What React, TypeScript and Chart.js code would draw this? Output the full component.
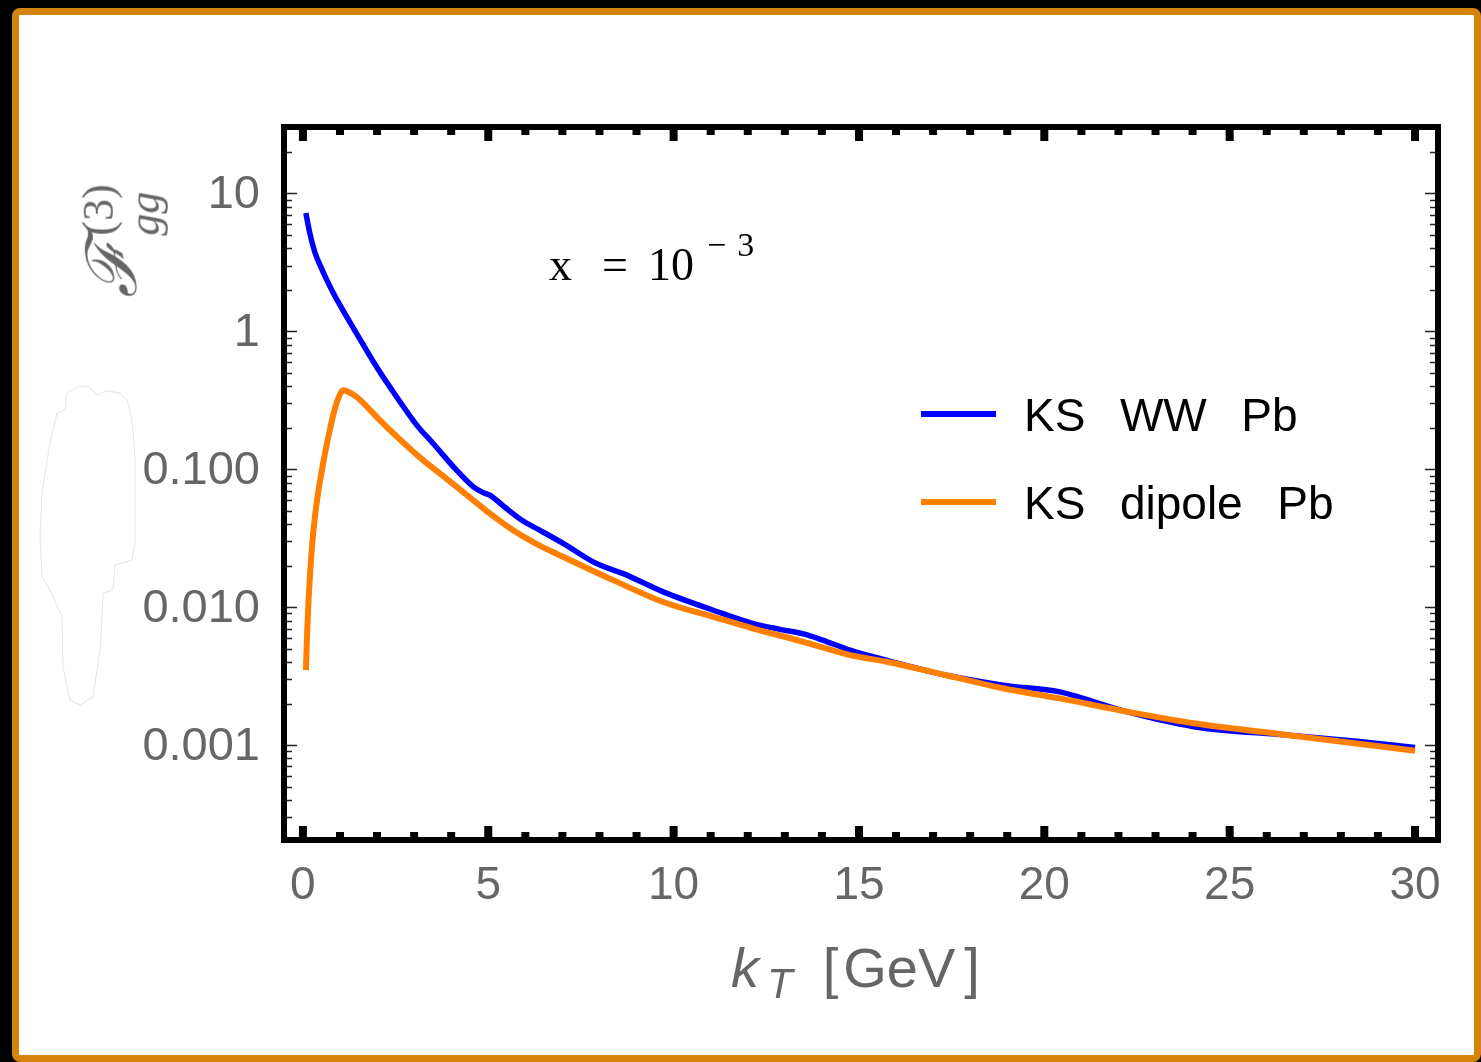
import React, { useEffect, useRef } from "react";
import { Chart, registerables } from "chart.js";

Chart.register(...registerables);

// ---- data ----
const kBlue = [0.08, 0.19, 0.32, 0.46, 0.64, 0.82, 1.0, 1.45, 1.99, 2.53, 3.07, 3.52, 4.15, 4.6, 4.85, 5.04, 5.49, 5.94, 6.35, 7.02, 7.92, 8.64, 9.72, 11.07, 12.15, 12.87, 13.5, 14.0, 14.76, 15.78, 17.33, 18.88, 20.42, 21.0, 22.17, 24.03, 26.6, 28.5, 30.0];
const blueValues = [7.2, 5.1, 3.76, 3.03, 2.37, 1.895, 1.546, 0.962, 0.551, 0.334, 0.209, 0.153, 0.098, 0.0745, 0.068, 0.0648, 0.0519, 0.0421, 0.0366, 0.029, 0.0207, 0.0175, 0.0129, 0.0095, 0.0076, 0.0069, 0.0064, 0.0058, 0.00488, 0.0041, 0.00322, 0.00272, 0.00243, 0.0022, 0.00176, 0.00136, 0.00118, 0.00106, 0.00096];

const kOrange = [0.081, 0.117, 0.153, 0.189, 0.252, 0.324, 0.414, 0.504, 0.62, 0.728, 0.863, 0.998, 1.088, 1.178, 1.45, 2.0, 2.35, 2.8, 3.25, 3.7, 4.15, 4.6, 5.04, 5.67, 6.35, 7.02, 8.37, 9.72, 11.07, 12.15, 13.4, 14.76, 15.78, 17.33, 18.88, 20.42, 22.17, 24.03, 26.6, 30.0];
const orangeValues = [0.00349, 0.00681, 0.01125, 0.0166, 0.0289, 0.0451, 0.0686, 0.0957, 0.141, 0.194, 0.275, 0.348, 0.374, 0.369, 0.334, 0.238, 0.192, 0.148, 0.116, 0.093, 0.0745, 0.0595, 0.0478, 0.0361, 0.0283, 0.0232, 0.0157, 0.0109, 0.0085, 0.007, 0.0057, 0.00449, 0.004, 0.00322, 0.00258, 0.00218, 0.00176, 0.00144, 0.00118, 0.00091];

const seriesLabels = ["KS  WW  Pb", "KS  dipole  Pb"];
const xTickValues = [0, 5, 10, 15, 20, 25, 30];
const xTickLabels = ["0", "5", "10", "15", "20", "25", "30"];
const xMinorTickValues = [0, 1, 2, 3, 4, 5, 6, 7, 8, 9, 10, 11, 12, 13, 14, 15, 16, 17, 18, 19, 20, 21, 22, 23, 24, 25, 26, 27, 28, 29, 30];
const yTickValues = [0.001, 0.01, 0.1, 1, 10];
const yTickLabels = ["0.001", "0.010", "0.100", "1", "10"];
const yDecades = [0.0001, 0.001, 0.01, 0.1, 1, 10];
const yMantissas = [1, 2, 3, 4, 5, 6, 7, 8, 9];

const BLUE = "#0000ff";
const ORANGE = "#ff8000";
const GREY = "#666666";

const framePlugin = {
  id: "mmaFrame",
  afterDatasetsDraw(chart: any) {
    const { ctx, chartArea, scales } = chart;
    const { left, right, top, bottom } = chartArea;
    const xs = scales.x;
    const ys = scales.y;
    ctx.save();
    // thick x ticks, inward, top and bottom
    ctx.fillStyle = "#000";
    for (const k of xMinorTickValues) {
      const px = xs.getPixelForValue(k);
      const len = k % 5 === 0 ? 14 : 8;
      ctx.fillRect(px - 4, bottom - len, 8, len);
      ctx.fillRect(px - 4, top, 8, len);
    }
    // thin log ticks, inward, left and right
    ctx.strokeStyle = "#222";
    ctx.lineWidth = 1.3;
    const [ymin, ymax] = [ys.min, ys.max];
    for (const d of yDecades) {
      for (const m of yMantissas) {
        const v = m * d;
        if (v < ymin || v > ymax) continue;
        const py = Math.round(ys.getPixelForValue(v)) + 0.5;
        const len = m === 1 ? 13 : 8;
        ctx.beginPath();
        ctx.moveTo(left, py);
        ctx.lineTo(left + len, py);
        ctx.moveTo(right, py);
        ctx.lineTo(right - len, py);
        ctx.stroke();
      }
    }
    // frame
    ctx.strokeStyle = "#000";
    ctx.lineWidth = 6;
    ctx.strokeRect(left, top, right - left, bottom - top);
    ctx.restore();
  },
};

const blobPoints = "77,387 88,386 97,395 107,391 120,393 127,400 131,415 133,430 135,460 135,543 132,560 115,565 113,590 103,593 102,617 100,650 93,697 80,705 70,700 63,667 62,617 50,590 42,577 40,537 42,493 50,443 57,413 65,410 67,393";

export default function App() {
  const ref = useRef<HTMLCanvasElement>(null);

  useEffect(() => {
    document.body.style.margin = "0";
    if (!ref.current) return;
    const chart = new Chart(ref.current, {
      type: "line",
      data: {
        datasets: [
          {
            label: seriesLabels[0],
            data: kBlue.map((k, i) => ({ x: k, y: blueValues[i] })),
            borderColor: BLUE,
            borderWidth: 5.5,
            pointRadius: 0,
            fill: false,
            cubicInterpolationMode: "monotone",
            order: 1,
          },
          {
            label: seriesLabels[1],
            data: kOrange.map((k, i) => ({ x: k, y: orangeValues[i] })),
            borderColor: ORANGE,
            borderWidth: 6,
            pointRadius: 0,
            fill: false,
            cubicInterpolationMode: "monotone",
            order: 0,
          },
        ],
      },
      options: {
        animation: false,
        responsive: false,
        events: [],
        layout: { padding: { left: 0, right: 43, top: 127, bottom: 0 } },
        plugins: { legend: { display: false }, tooltip: { enabled: false } },
        scales: {
          x: {
            type: "linear",
            min: -0.51,
            max: 30.62,
            grid: { display: false, drawTicks: false },
            border: { display: false },
            afterBuildTicks: (axis: any) => {
              axis.ticks = xTickValues.map((v) => ({ value: v }));
            },
            afterFit: (axis: any) => {
              axis.height = 222;
            },
            ticks: {
              autoSkip: false,
              maxRotation: 0,
              padding: 19,
              color: GREY,
              font: { family: "'Liberation Sans', Arial, sans-serif", size: 46 },
              callback: (_v: any, i: number) => xTickLabels[i],
            },
          },
          y: {
            type: "logarithmic",
            min: 0.000205,
            max: 30.3,
            grid: { display: false, drawTicks: false },
            border: { display: false },
            afterBuildTicks: (axis: any) => {
              axis.ticks = yTickValues.map((v) => ({ value: v, major: true }));
            },
            afterFit: (axis: any) => {
              axis.width = 284;
            },
            ticks: {
              autoSkip: false,
              padding: 24,
              labelOffset: 2,
              color: GREY,
              font: { family: "'Liberation Sans', Arial, sans-serif", size: 47 },
              callback: (_v: any, i: number) => yTickLabels[i],
            },
          },
        },
      },
      plugins: [framePlugin],
    } as any);
    return () => chart.destroy();
  }, []);

  const sans = "'Liberation Sans', Arial, sans-serif";
  const serif = "'Liberation Serif', 'Times New Roman', serif";

  return (
    <div style={{ position: "fixed", left: 0, top: 0, width: 1481, height: 1062, background: "#000", overflow: "hidden" }}>
      <div
        style={{
          position: "absolute",
          left: 12,
          top: 8,
          width: 1469,
          height: 1054,
          boxSizing: "border-box",
          border: "7px solid #d5840b",
          borderRadius: 8,
          background: "#fff",
        }}
      />
      <svg width={1481} height={1062} style={{ position: "absolute", left: 0, top: 0 }}>
        <polygon points={blobPoints} fill="#fff" stroke="#e4e4e4" strokeWidth={1} strokeLinejoin="round" />
      </svg>
      <canvas ref={ref} width={1481} height={1062} style={{ position: "absolute", left: 0, top: 0, display: "block" }} />

      {/* annotation x = 10^-3 */}
      <div style={{ position: "absolute", left: 549, top: 242, fontFamily: serif, fontSize: 46, lineHeight: 1, color: "#000", whiteSpace: "pre" }}>
        <span>x</span>
        <span style={{ marginLeft: 30 }}>=</span>
        <span style={{ marginLeft: 20 }}>10</span>
        <span style={{ fontSize: 34, position: "relative", top: -24, marginLeft: 13 }}>
          −<span style={{ marginLeft: 11 }}>3</span>
        </span>
      </div>

      {/* legend */}
      <div style={{ position: "absolute", left: 921, top: 411, width: 75, height: 5.5, background: BLUE }} />
      <div style={{ position: "absolute", left: 921, top: 499, width: 75, height: 6, background: ORANGE }} />
      <div style={{ position: "absolute", left: 1024, top: 392, fontFamily: sans, fontSize: 46, lineHeight: 1, color: "#000", whiteSpace: "pre", wordSpacing: 4.5 }}>
        {seriesLabels[0]}
      </div>
      <div style={{ position: "absolute", left: 1024, top: 480, fontFamily: sans, fontSize: 46, lineHeight: 1, color: "#000", whiteSpace: "pre", wordSpacing: 4.5 }}>
        {seriesLabels[1]}
      </div>

      {/* x axis title */}
      <div style={{ position: "absolute", left: 731, top: 940, fontFamily: sans, fontSize: 56, lineHeight: 1, color: GREY, whiteSpace: "pre" }}>
        <span style={{ fontStyle: "italic" }}>k</span>
        <span style={{ fontStyle: "italic", fontSize: 42, position: "relative", top: 11, marginLeft: 8 }}>T</span>
        <span style={{ marginLeft: 30 }}>[</span>
        <span style={{ marginLeft: 5 }}>GeV</span>
        <span style={{ marginLeft: 9 }}>]</span>
      </div>

      {/* y axis title */}
      <div
        style={{
          position: "absolute",
          left: 122,
          top: 241,
          transform: "translate(-50%, -50%) rotate(-90deg)",
          color: GREY,
          whiteSpace: "nowrap",
          display: "flex",
          alignItems: "center",
          lineHeight: 1,
        }}
      >
        <span style={{ fontFamily: "'DejaVu Serif', serif", fontStyle: "italic", fontSize: 70, position: "relative", top: -10 }}>ℱ</span>
        <span style={{ display: "inline-flex", flexDirection: "column", marginLeft: 4, fontFamily: serif, fontSize: 44, lineHeight: 1.05 }}>
          <span>(3)</span>
          <span style={{ fontStyle: "italic" }}>gg</span>
        </span>
      </div>
    </div>
  );
}
